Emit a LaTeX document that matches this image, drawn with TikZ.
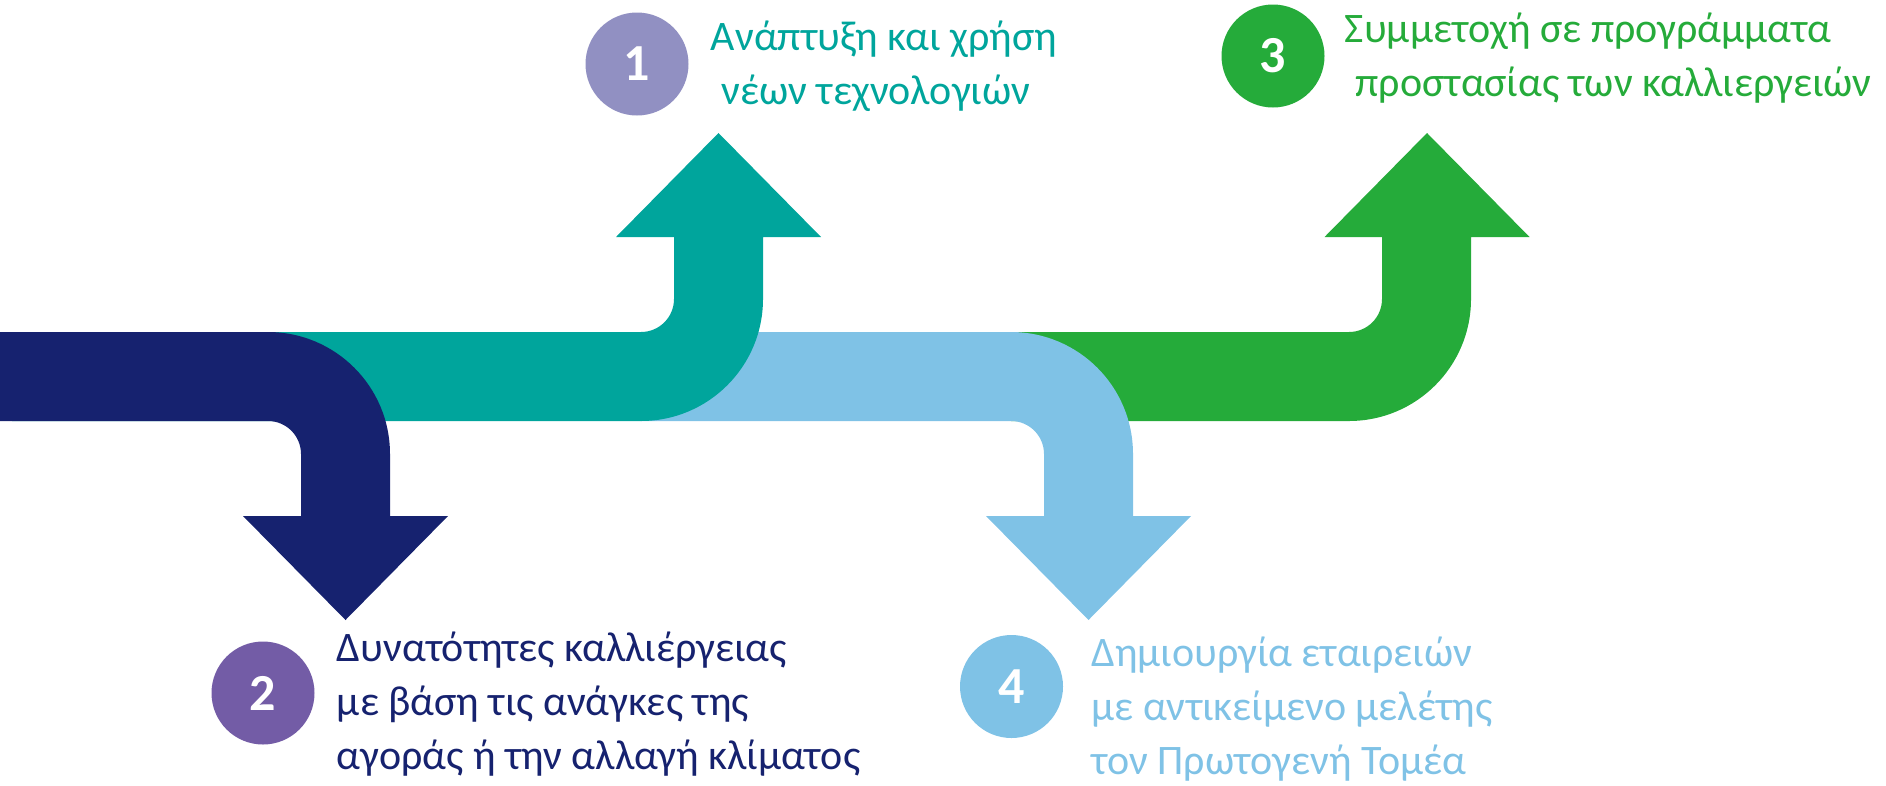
\documentclass[tikz,border=0pt]{standalone}
\usepackage{fontspec}
\setmainfont{Carlito}
\definecolor{navyband}{HTML}{16226F}
\definecolor{tealband}{HTML}{00A59C}
\definecolor{skyband}{HTML}{7FC2E6}
\definecolor{greenband}{HTML}{25AB3A}
\definecolor{lavender}{HTML}{9190C2}
\definecolor{violet}{HTML}{735CA6}
\tikzset{
  badge/.style={circle, minimum size=103pt, inner sep=0pt, text=white, font=\fontsize{52}{52}\selectfont\bfseries},
  blurb/.style={anchor=west, align=left, inner sep=0pt, font=\fontsize{42}{54}\selectfont}
}
\begin{document}
\begin{tikzpicture}[x=1pt, y=-1pt]
\useasboundingbox (0,0) rectangle (1886,785);
% green band, up
\fill[greenband] (1011,332) -- (1349,332) arc[start angle=90, end angle=0, radius=33] -- (1382,237) -- (1324.5,237) -- (1427,133) -- (1529.5,237) -- (1471,237) -- (1471,299) arc[start angle=0, end angle=90, radius=122] -- (1011,421) -- cycle;
% light blue band, down
\fill[skyband] (641,332) -- (1011,332) arc[start angle=-90, end angle=0, radius=122] -- (1133,516) -- (1191,516) -- (1088.5,620) -- (986,516) -- (1044,516) -- (1044,454) arc[start angle=0, end angle=-90, radius=33] -- (641,421) -- cycle;
% teal band, up
\fill[tealband] (12,332) -- (641,332) arc[start angle=90, end angle=0, radius=33] -- (674,237) -- (616,237) -- (718.5,133) -- (821,237) -- (763,237) -- (763,299) arc[start angle=0, end angle=90, radius=122] -- (12,421) -- cycle;
% navy band, down
\fill[navyband] (0,332) -- (268,332) arc[start angle=-90, end angle=0, radius=122] -- (390,516) -- (448,516) -- (345.5,620) -- (243,516) -- (301,516) -- (301,454) arc[start angle=0, end angle=-90, radius=33] -- (0,421) -- cycle;

\node[badge, fill=lavender] (c1) at (637,64) {1};
\node[badge, fill=violet] (c2) at (263,693) {2};
\node[badge, fill=greenband] (c3) at (1273,56) {3};
\node[badge, fill=skyband] (c4) at (1011.5,686.5) {4};

\node[blurb, text=tealband] at ([xshift=22pt,yshift=-2pt]c1.east) (t1) {Ανάπτυξη και χρήση\\\hspace{0.25em}νέων τεχνολογιών};
\node[blurb, text=navyband] at ([xshift=22pt,yshift=-11pt]c2.east) (t2) {Δυνατότητες καλλιέργειας\\με βάση τις ανάγκες της\\αγοράς ή την αλλαγή κλίματος};
\node[blurb, text=greenband] at ([xshift=20pt,yshift=-2pt]c3.east) (t3) {Συμμετοχή σε προγράμματα\\\hspace{0.25em}προστασίας των καλλιεργειών};
\node[blurb, text=skyband] at ([xshift=28pt,yshift=-23pt]c4.east) (t4) {Δημιουργία εταιρειών\\με αντικείμενο μελέτης\\τον Πρωτογενή Τομέα};
\end{tikzpicture}
\end{document}
